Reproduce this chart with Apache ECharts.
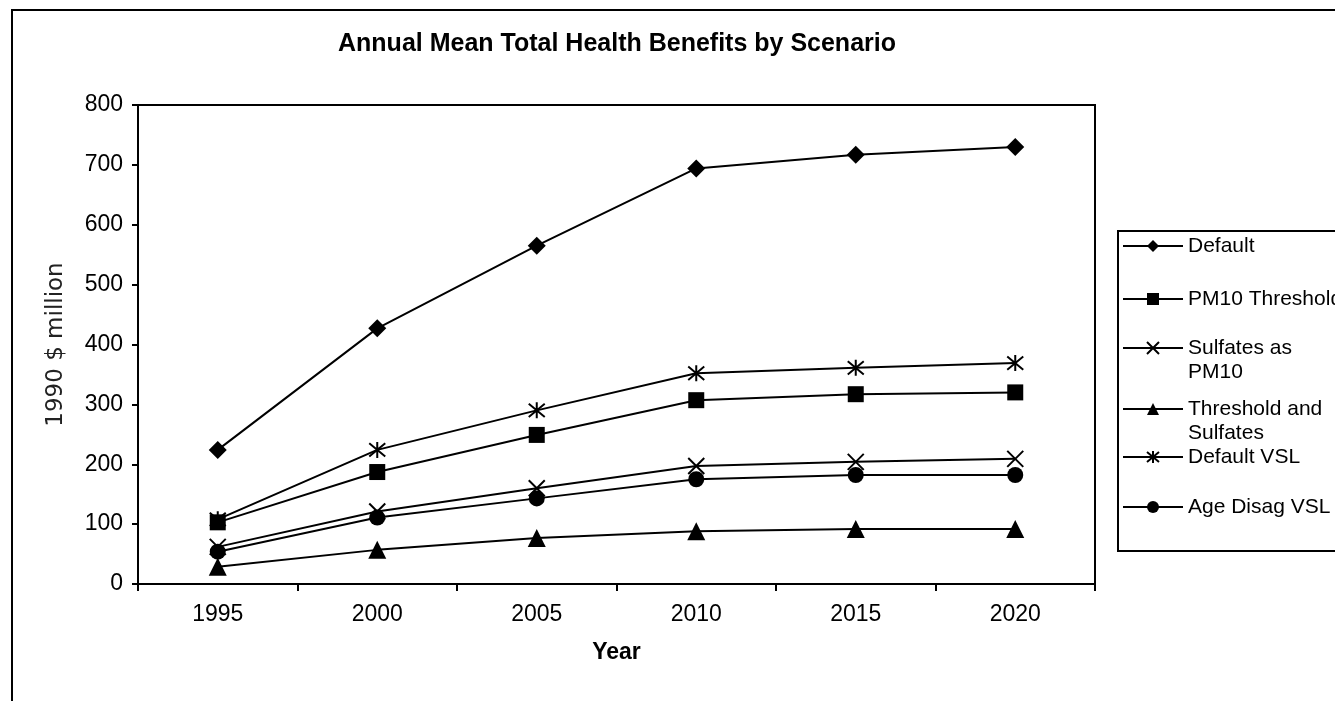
<!DOCTYPE html>
<html>
<head>
<meta charset="utf-8">
<script src="https://cdn.jsdelivr.net/npm/echarts@6/dist/echarts.min.js"></script>
<style>
html,body{margin:0;padding:0;background:#fff;}
#chart{width:1335px;height:701px;}
</style>
</head>
<body>
<div id="chart"></div>
<script>
const years = ['1995', '2000', '2005', '2010', '2015', '2020'];
const seriesNames = ['Default', 'PM10 Threshold', 'Sulfates as PM10', 'Threshold and Sulfates', 'Default VSL', 'Age Disag VSL'];
const legendLabels = ['Default', 'PM10 Threshold', 'Sulfates as\nPM10', 'Threshold and\nSulfates', 'Default VSL', 'Age Disag VSL'];
const defaultVals = [224, 427, 565, 694, 717, 730];
const pm10Threshold = [103, 187, 249, 307, 317, 320];
const sulfatesAsPM10 = [62, 121, 160, 197, 204, 209];
const thresholdAndSulfates = [29, 57, 77, 88, 92, 92];
const defaultVSL = [108, 224, 290, 352, 361, 369];
const ageDisagVSL = [54, 111, 143, 175, 182, 182];
const yMin = 0, yMax = 800, yStep = 100;

const FONT = "'Liberation Sans', Arial, sans-serif";
const xPath = 'path://M0,0L10,10M10,0L0,10';
const starPath = 'path://M0,0L10,10M10,0L0,10M5,-1L5,11';

const seriesData = [defaultVals, pm10Threshold, sulfatesAsPM10, thresholdAndSulfates, defaultVSL, ageDisagVSL];
const symbols = ['diamond', 'rect', xPath, 'triangle', starPath, 'circle'];
const symbolSizes = [18, 16, 16, 18, 16, 16];
const stroked = [false, false, true, false, true, false];

const series = seriesNames.map((name, i) => ({
  name: name,
  type: 'line',
  data: seriesData[i],
  symbol: symbols[i],
  symbolSize: symbolSizes[i],
  showAllSymbol: true,
  lineStyle: { color: '#000', width: 2 },
  itemStyle: stroked[i]
    ? { color: '#000', borderColor: '#000', borderWidth: 2 }
    : { color: '#000', borderWidth: 0 },
  emphasis: { disabled: true },
  animation: false
}));

const LH = 24;
// icon centre y of each legend entry
const legendCentres = [246, 299, 348, 409, 457, 507];
const legends = seriesNames.map((name, i) => {
  const twoLine = legendLabels[i].indexOf('\n') >= 0;
  return {
    data: [name],
    orient: 'vertical',
    left: 1122,
    top: twoLine ? legendCentres[i] - 1.5 * LH : legendCentres[i] - LH / 2,
    padding: 0,
    itemWidth: 60,
    itemHeight: 15,
    selectedMode: false,
    formatter: () => (twoLine ? '\n' : '') + legendLabels[i],
    textStyle: { fontFamily: FONT, fontSize: 21, color: '#000', lineHeight: LH }
  };
});

const chart = echarts.init(document.getElementById('chart'), null, { renderer: 'canvas' });
chart.setOption({
  backgroundColor: '#fff',
  animation: false,
  title: {
    text: 'Annual Mean Total Health Benefits by Scenario',
    left: 617,
    top: 32,
    padding: 0,
    textAlign: 'center',
    textStyle: { fontFamily: FONT, fontSize: 25, fontWeight: 'bold', color: '#000' }
  },
  legend: legends,
  graphic: [
    { type: 'rect', shape: { x: 12, y: 10, width: 1400, height: 800 }, style: { fill: 'none', stroke: '#000', lineWidth: 2 }, silent: true, z: -1 },
    { type: 'rect', shape: { x: 1118, y: 231, width: 300, height: 320 }, style: { fill: 'none', stroke: '#000', lineWidth: 2 }, silent: true }
  ],
  grid: {
    left: 138, top: 105, right: 240, bottom: 117,
    show: true, borderColor: '#000', borderWidth: 2, backgroundColor: 'transparent',
    containLabel: false, outerBoundsMode: 'none'
  },
  xAxis: {
    type: 'category',
    data: years,
    boundaryGap: true,
    name: 'Year',
    nameLocation: 'middle',
    nameGap: 57,
    nameTextStyle: { fontFamily: FONT, fontSize: 23, fontWeight: 'bold', color: '#000' },
    axisLine: { lineStyle: { color: '#000', width: 2 } },
    axisTick: { show: true, inside: false, length: 7, interval: 0, alignWithLabel: false, lineStyle: { color: '#000', width: 2 } },
    axisLabel: { fontFamily: FONT, fontSize: 23, color: '#000', margin: 19, interval: 0 },
    splitLine: { show: false }
  },
  yAxis: {
    type: 'value',
    min: yMin, max: yMax, interval: yStep,
    name: '1990 $ million',
    nameLocation: 'middle',
    nameGap: 70,
    nameRotate: 90,
    nameTextStyle: { fontFamily: "'DejaVu Sans', sans-serif", fontSize: 23, color: '#222' },
    axisLine: { show: true, lineStyle: { color: '#000', width: 2 } },
    axisTick: { show: true, inside: false, length: 6, lineStyle: { color: '#000', width: 2 } },
    axisLabel: { fontFamily: FONT, fontSize: 23, color: '#000', margin: 15 },
    splitLine: { show: false }
  },
  series: series
});
</script>
</body>
</html>
